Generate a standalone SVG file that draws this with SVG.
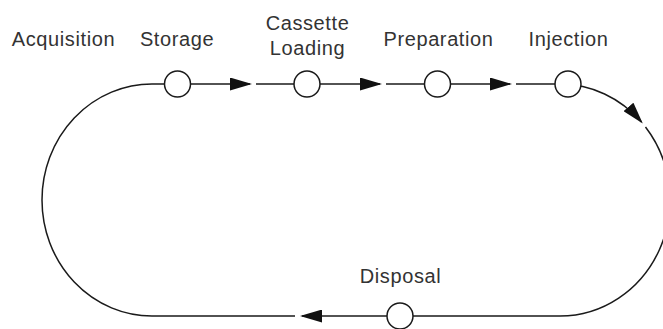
<svg xmlns="http://www.w3.org/2000/svg" width="663" height="329" viewBox="0 0 663 329">
  <style>
    .lbl { font-family: "Liberation Sans", Arial, sans-serif; font-size: 20px; letter-spacing: 0.6px; fill: #333333; text-anchor: middle; }
    .node { fill: #ffffff; stroke: #1a1a1a; stroke-width: 1.5; }
    .flow { fill: none; stroke: #1a1a1a; stroke-width: 1.5; }
    .flow.arrow { marker-end: url(#head); }
  </style>
  <defs>
    <marker id="head" markerUnits="userSpaceOnUse" markerWidth="22" markerHeight="13" refX="20" refY="6.5" orient="auto">
      <path d="M0,0 L22,6.5 L0,13 Z" fill="#111111"/>
    </marker>
  </defs>

  <rect width="663" height="329" fill="#ffffff"/>

  <!-- connectors: a closed track, broken just after each arrowhead -->
  <g id="connectors">
    <!-- Storage to Cassette Loading -->
    <path class="flow arrow" d="M177.5,84 L250,84"/>
    <path class="flow" d="M256,84 L307,84"/>
    <!-- Cassette Loading to Preparation -->
    <path class="flow arrow" d="M307,84 L380,84"/>
    <path class="flow" d="M386,84 L437.5,84"/>
    <!-- Preparation to Injection -->
    <path class="flow arrow" d="M437.5,84 L510,84"/>
    <path class="flow" d="M516,84 L568,84"/>
    <!-- Injection around the right bend to Disposal -->
    <path class="flow arrow" d="M560,84 A110,116 0 0 1 641.5,122.1"/>
    <path class="flow" d="M645.5,127 A110,116 0 0 1 560,316 L400,316"/>
    <!-- Disposal around the left bend back to Storage -->
    <path class="flow arrow" d="M400,316 L302,316"/>
    <path class="flow" d="M295,316 L152,316 A110,116 0 0 1 152,84 L177.5,84"/>
  </g>

  <g id="acquisition">
    <text class="lbl" x="63.5" y="46">Acquisition</text>
  </g>
  <g id="storage">
    <circle class="node" cx="177.5" cy="84" r="13"/>
    <text class="lbl" x="177" y="46">Storage</text>
  </g>
  <g id="cassette-loading">
    <circle class="node" cx="307" cy="84" r="13"/>
    <text class="lbl" x="307.5" y="30">Cassette</text>
    <text class="lbl" x="307.5" y="55">Loading</text>
  </g>
  <g id="preparation">
    <circle class="node" cx="437.5" cy="84" r="13"/>
    <text class="lbl" x="438.5" y="46">Preparation</text>
  </g>
  <g id="injection">
    <circle class="node" cx="568" cy="84" r="13"/>
    <text class="lbl" x="568.5" y="46">Injection</text>
  </g>
  <g id="disposal">
    <circle class="node" cx="400" cy="316" r="13"/>
    <text class="lbl" x="400.5" y="282.5">Disposal</text>
  </g>
</svg>
